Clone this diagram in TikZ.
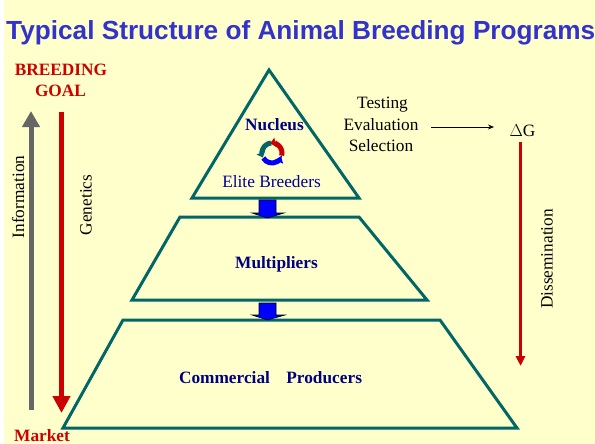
\documentclass[tikz,border=0pt]{standalone}
\usepackage{fontspec}
\setmainfont{Liberation Serif}
\newfontfamily\titlefont{Liberation Sans}
\usetikzlibrary{arrows.meta,calc}
\definecolor{paper}{HTML}{FFFFCC}
\definecolor{tealline}{HTML}{006666}
\definecolor{navytext}{HTML}{000080}
\definecolor{bluetext}{HTML}{000099}
\definecolor{redline}{HTML}{CC0000}
\definecolor{grayline}{HTML}{666666}
\definecolor{titleblue}{HTML}{3333CC}
\tikzset{
  tier/.style={draw=tealline,line width=3pt,line join=miter,miter limit=3},
  blockarrow/.style={draw=black,line width=0.6pt,fill=blue},
  lbl/.style={inner sep=0pt,anchor=base,text=black,font=\fontsize{17.3}{20}\selectfont},
  sidelbl/.style={inner sep=0pt,rotate=90,text=black,font=\fontsize{17.3}{20}\selectfont},
  tierlbl/.style={inner sep=0pt,anchor=base,text=navytext,font=\fontsize{17.3}{20}\selectfont\bfseries},
  goal/.style={inner sep=0pt,anchor=base,text=redline,font=\fontsize{17.3}{20}\selectfont\bfseries},
  cyc/.style={line width=5pt,-{Triangle[length=5pt,width=9pt]}}
}
\begin{document}
\begin{tikzpicture}[x=1pt,y=-1pt]
\useasboundingbox (0,0) rectangle (595,444);
\fill[white] (0,0) rectangle (595,444);
\fill[paper] (4,0) rectangle (595,444);
\node[anchor=base west,inner sep=0pt,text=titleblue,font=\fontsize{26.2}{30}\selectfont\titlefont\bfseries] (title) at (6,40) {Typical Structure of Animal Breeding Programs};
% tiers
\draw[tier] (269,70) -- (359,198) -- (192,198) -- cycle;
\draw[tier] (180,217) -- (359,217) -- (427,300) -- (132,300) -- cycle;
\draw[tier] (123,320) -- (440,320) -- (517,428) -- (63,428) -- cycle;
% block arrows
\draw[blockarrow] (259,200) -- (276,200) -- (276,213) -- (284,213) -- (267.5,218) -- (252,213) -- (259,213) -- cycle;
\draw[blockarrow] (259,303) -- (276,303) -- (276,315) -- (285,315) -- (267.5,320) -- (252,315) -- (259,315) -- cycle;
% labels
\node[tierlbl] (nucleus) at (274.5,131) {Nucleus};
\node[lbl,text=bluetext] (elite) at (271.5,187) {Elite Breeders};
\node[tierlbl] (mult) at (276.5,268) {Multipliers};
\node[tierlbl] (comm) at (270.5,383) {Commercial\hspace{0.7em} Producers};
\node[goal] (goaltxt) at (61,76) {BREEDING};
\node[goal] (goaltxtb) at (60.5,96) {GOAL};
\node[goal,anchor=base west] (market) at (14,441) {Market};
\node[lbl] (tes) at (382.5,109) {Testing};
\node[lbl] (eva) at (381,130) {Evaluation};
\node[lbl] (sel) at (381,151) {Selection};
\node[lbl] (dg) at (522.5,136) {$\Delta$G};
\node[sidelbl] (info) at (18,197) {Information};
\node[sidelbl] (gen) at (86,205) {Genetics};
\node[sidelbl] (diss) at (547,259) {Dissemination};
% cycle icon
\coordinate (cc) at (272,153);
\draw[cyc,tealline] ($(cc)+(95:10pt)$) arc[start angle=95,end angle=205,radius=10pt];
\draw[cyc,redline] ($(cc)+(-15:10pt)$) arc[start angle=-15,end angle=100,radius=10pt];
\draw[cyc,blue] ($(cc)+(-150:10pt)$) arc[start angle=-150,end angle=-25,radius=10pt];
% side arrows
\coordinate (g1) at (31,410); \coordinate (g2) at (31,111);
\coordinate (r1) at (61.5,112); \coordinate (r2) at (61.5,413);
\coordinate (d1) at (520.5,142); \coordinate (d2) at (520.5,366);
\draw[grayline,line width=5pt,-{Triangle[length=16pt,width=17pt]}] (g1) -- (g2);
\draw[redline,line width=5pt,-{Triangle[length=17pt,width=17pt]}] (r1) -- (r2);
\draw[redline,line width=2.6pt,-{Triangle[length=10pt,width=9pt]}] (d1) -- (d2);
\coordinate (t2) at (494,127);
\draw[black,line width=0.8pt,-{Stealth[length=6pt,width=5pt]}] (431,127) -- (t2);
\end{tikzpicture}
\end{document}
